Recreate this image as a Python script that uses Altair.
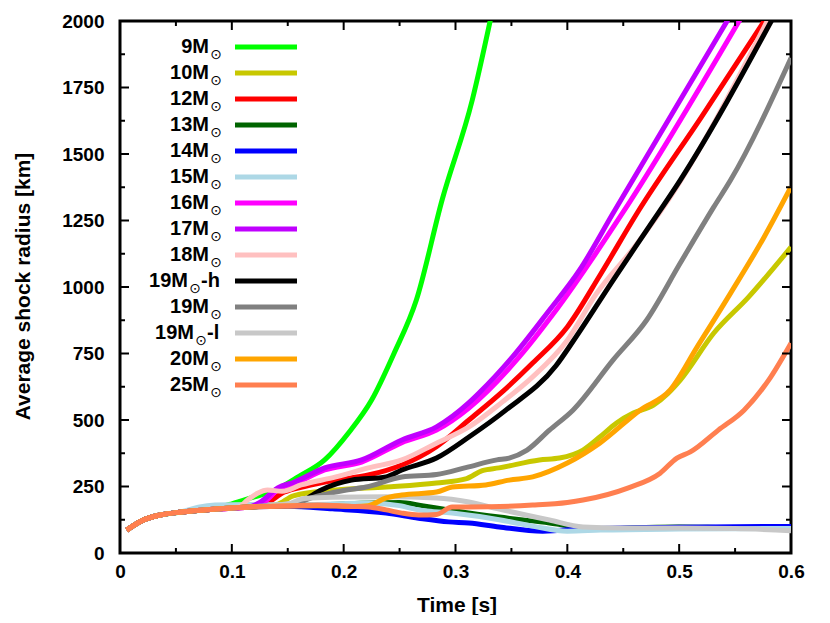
import altair as alt
import pandas as pd

# ---------------- data ----------------
NAMES = ["9M", "10M", "12M", "13M", "14M", "15M", "16M", "17M", "18M",
         "19M-h", "19M", "19M-l", "20M", "25M"]
COLORS = ["#00ff00", "#c8c800", "#ff0000", "#006400", "#0000ff", "#add8e6",
          "#ff00ff", "#c000ff", "#ffc0c0", "#000000", "#808080", "#c8c8c8",
          "#ffa500", "#ff7f50"]
LEG_MAIN = ["9M", "10M", "12M", "13M", "14M", "15M", "16M", "17M", "18M",
            "19M", "19M", "19M", "20M", "25M"]
LEG_SUFFIX = ["", "", "", "", "", "", "", "", "", "-h", "", "-l", "", ""]

T9 = [0.006, 0.02, 0.035, 0.055, 0.08, 0.1, 0.117, 0.139, 0.16, 0.183, 0.205, 0.225, 0.245, 0.265, 0.288, 0.315, 0.332]
V9 = [86, 122, 142, 154, 164, 185, 207, 237, 288, 350, 455, 575, 750, 951, 1327, 1703, 2020]

T10 = [0.006, 0.02, 0.035, 0.055, 0.085, 0.115, 0.14, 0.155, 0.193, 0.238, 0.283, 0.31, 0.324, 0.339, 0.375, 0.393, 0.414, 0.429, 0.444, 0.459, 0.477, 0.49, 0.501, 0.531, 0.562, 0.6]
V10 = [86, 122, 142, 154, 165, 173, 182, 215, 237, 248, 263, 280, 310, 320, 350, 357, 387, 436, 489, 526, 556, 600, 650, 827, 962, 1150]

T12 = [0.006, 0.02, 0.035, 0.055, 0.085, 0.115, 0.13, 0.147, 0.165, 0.193, 0.222, 0.252, 0.283, 0.312, 0.339, 0.369, 0.4, 0.43, 0.463, 0.52, 0.58]
V12 = [86, 122, 142, 154, 165, 173, 185, 229, 250, 274, 293, 331, 400, 500, 595, 714, 850, 1050, 1282, 1640, 2025]

T13 = [0.006, 0.02, 0.035, 0.055, 0.085, 0.115, 0.15, 0.18, 0.21, 0.25, 0.27, 0.294, 0.339, 0.384, 0.43, 0.46, 0.5, 0.55, 0.6]
V13 = [86, 122, 142, 154, 165, 173, 178, 181, 186, 190, 178, 162, 135, 113, 88, 95, 98, 95, 98]

T14 = [0.006, 0.02, 0.035, 0.055, 0.085, 0.115, 0.15, 0.19, 0.238, 0.267, 0.294, 0.312, 0.339, 0.378, 0.42, 0.5, 0.6]
V14 = [86, 122, 142, 154, 165, 173, 176, 166, 150, 131, 117, 113, 98, 82, 92, 97, 100]

T15 = [0.006, 0.02, 0.035, 0.055, 0.07, 0.085, 0.115, 0.15, 0.19, 0.222, 0.25, 0.267, 0.297, 0.339, 0.37, 0.4, 0.43, 0.5, 0.6]
V15 = [86, 122, 142, 155, 172, 180, 182, 181, 184, 188, 178, 162, 150, 125, 100, 82, 86, 90, 92]

T16 = [0.006, 0.02, 0.035, 0.055, 0.085, 0.115, 0.13, 0.141, 0.156, 0.183, 0.216, 0.252, 0.283, 0.312, 0.357, 0.388, 0.45, 0.555]
V16 = [86, 122, 142, 154, 165, 173, 195, 238, 260, 312, 342, 415, 462, 545, 737, 902, 1282, 2010]

T17 = [0.006, 0.02, 0.035, 0.055, 0.085, 0.115, 0.125, 0.141, 0.156, 0.183, 0.216, 0.252, 0.283, 0.312, 0.321, 0.351, 0.382, 0.411, 0.441, 0.545]
V17 = [86, 122, 142, 154, 165, 173, 190, 245, 267, 320, 350, 425, 474, 565, 601, 737, 902, 1064, 1278, 2015]

T18 = [0.006, 0.02, 0.035, 0.055, 0.085, 0.106, 0.114, 0.123, 0.132, 0.145, 0.162, 0.193, 0.222, 0.252, 0.283, 0.312, 0.342, 0.369, 0.4, 0.426, 0.46, 0.486, 0.58]
V18 = [86, 122, 142, 154, 165, 172, 199, 225, 237, 232, 256, 286, 320, 350, 413, 474, 568, 662, 800, 975, 1150, 1300, 2010]

T19H = [0.006, 0.02, 0.035, 0.055, 0.085, 0.115, 0.155, 0.165, 0.18, 0.207, 0.238, 0.252, 0.283, 0.312, 0.345, 0.39, 0.405, 0.441, 0.471, 0.501, 0.585]
V19H = [86, 122, 142, 154, 165, 173, 182, 200, 237, 274, 286, 312, 357, 436, 537, 705, 795, 1026, 1214, 1402, 2020]

T19 = [0.006, 0.02, 0.035, 0.055, 0.085, 0.115, 0.155, 0.171, 0.2, 0.22, 0.252, 0.283, 0.31, 0.337, 0.348, 0.364, 0.384, 0.405, 0.441, 0.471, 0.501, 0.531, 0.546, 0.6]
V19 = [86, 122, 142, 154, 165, 173, 185, 207, 235, 248, 286, 295, 322, 350, 357, 387, 462, 537, 726, 876, 1090, 1301, 1402, 1861]

T19L = [0.006, 0.02, 0.035, 0.055, 0.085, 0.115, 0.15, 0.165, 0.19, 0.238, 0.283, 0.312, 0.339, 0.384, 0.414, 0.45, 0.5, 0.55, 0.6]
V19L = [86, 122, 142, 154, 165, 173, 185, 205, 210, 211, 207, 192, 165, 124, 98, 94, 94, 92, 84]

T20 = [0.006, 0.02, 0.035, 0.055, 0.085, 0.115, 0.177, 0.21, 0.222, 0.238, 0.252, 0.283, 0.297, 0.327, 0.348, 0.369, 0.4, 0.429, 0.465, 0.492, 0.516, 0.546, 0.576, 0.6]
V20 = [86, 122, 142, 154, 165, 173, 178, 175, 178, 207, 218, 229, 248, 256, 274, 286, 338, 413, 537, 613, 774, 977, 1188, 1376]

T25 = [0.006, 0.02, 0.035, 0.055, 0.085, 0.115, 0.147, 0.177, 0.207, 0.222, 0.238, 0.252, 0.267, 0.283, 0.297, 0.312, 0.369, 0.4, 0.414, 0.454, 0.483, 0.498, 0.51, 0.535, 0.558, 0.58, 0.6]
V25 = [86, 122, 142, 154, 165, 173, 177, 180, 175, 173, 162, 150, 143, 145, 173, 173, 180, 190, 199, 244, 300, 357, 380, 462, 537, 650, 789]

SERIES_T = [T9, T10, T12, T13, T14, T15, T16, T17, T18, T19H, T19, T19L, T20, T25]
SERIES_V = [V9, V10, V12, V13, V14, V15, V16, V17, V18, V19H, V19, V19L, V20, V25]

X_MAJOR = [0, 0.1, 0.2, 0.3, 0.4, 0.5, 0.6]
X_MINOR = [0.05, 0.15, 0.25, 0.35, 0.45, 0.55]
Y_MAJOR = [0, 250, 500, 750, 1000, 1250, 1500, 1750, 2000]
Y_MINOR = [125, 375, 625, 875, 1125, 1375, 1625, 1875]

# ---------------- layout / style ----------------
W, H = 671, 532
FONT = "Liberation Sans"
FS = 19      # tick labels
TFS = 21     # axis titles
LFS = 20     # legend labels

xs = alt.Scale(domain=[0, 0.6], nice=False, zero=False)
ys = alt.Scale(domain=[0, 2000], nice=False, zero=False)

x_axis = alt.Axis(values=X_MAJOR, labelExpr="datum.value == 0 ? '0' : format(datum.value, '.1f')",
                  title="Time [s]", ticks=False, domain=False, grid=False,
                  labelFont=FONT, labelFontSize=FS, labelFontWeight="bold", labelColor="black",
                  labelPadding=9, labelFlush=False, labelOverlap=False,
                  titleFont=FONT, titleFontSize=TFS, titleFontWeight="bold", titleColor="black",
                  titleX=W / 2 + 1, titleY=52, titleBaseline="middle")
y_axis = alt.Axis(values=Y_MAJOR, format="d",
                  title="Average shock radius [km]", ticks=False, domain=False, grid=False,
                  labelFont=FONT, labelFontSize=FS, labelFontWeight="bold", labelColor="black",
                  labelPadding=16, labelFlush=False, labelOverlap=False,
                  titleFont=FONT, titleFontSize=TFS, titleFontWeight="bold", titleColor="black",
                  titleX=-97, titleY=H / 2 - 1, titleBaseline="middle")

X_ENC = alt.X("t:Q", scale=xs, axis=x_axis, title="Time [s]")
Y_ENC = alt.Y("v:Q", scale=ys, axis=y_axis, title="Average shock radius [km]")

layers = []
for name, col, ts, vs in zip(NAMES, COLORS, SERIES_T, SERIES_V):
    df = pd.DataFrame({"t": ts, "v": vs, "name": name})
    layers.append(
        alt.Chart(df).mark_line(strokeWidth=5, clip=True, interpolate="monotone", strokeCap="butt")
        .encode(x=X_ENC, y=Y_ENC, color=alt.value(col))
    )

# inward ticks on all four sides
def xticks(vals, length):
    df = pd.DataFrame({"t": vals})
    bottom = alt.Chart(df).mark_rule(color="black", strokeWidth=2).encode(
        x=X_ENC, y=alt.value(H), y2=alt.value(H - length))
    top = alt.Chart(df).mark_rule(color="black", strokeWidth=2).encode(
        x=X_ENC, y=alt.value(0), y2=alt.value(length))
    return [bottom, top]

def yticks(vals, length):
    df = pd.DataFrame({"v": vals})
    left = alt.Chart(df).mark_rule(color="black", strokeWidth=2).encode(
        y=Y_ENC, x=alt.value(0), x2=alt.value(length))
    right = alt.Chart(df).mark_rule(color="black", strokeWidth=2).encode(
        y=Y_ENC, x=alt.value(W), x2=alt.value(W - length))
    return [left, right]

layers += xticks(X_MAJOR, 9) + xticks(X_MINOR, 5) + yticks(Y_MAJOR, 9) + yticks(Y_MINOR, 5)

# custom legend (labels left of the line samples, gnuplot style)
R = 102
SW = {"": 0, "-h": 21, "-l": 15}
rows = []
for i, (name, main, suf) in enumerate(zip(NAMES, LEG_MAIN, LEG_SUFFIX)):
    sx = R - 6 - SW[suf]
    rows.append({"name": name, "main": main, "suf": suf,
                 "ly": 26 + 26 * i, "sy": 26 + 26 * i + 8,
                 "mx": sx - 7, "sx": sx, "fx": sx + 6,
                 "lx1": 115, "lx2": 177})
leg = pd.DataFrame(rows)
cscale = alt.Scale(domain=NAMES, range=COLORS)

leg_rule = alt.Chart(leg).mark_rule(strokeWidth=5).encode(
    x=alt.X("lx1:Q", scale=None), x2="lx2:Q", y=alt.Y("ly:Q", scale=None),
    color=alt.Color("name:N", scale=cscale, legend=None))
leg_main = alt.Chart(leg).mark_text(align="right", baseline="middle", font=FONT,
                                    fontSize=LFS, fontWeight="bold", color="black").encode(
    x=alt.X("mx:Q", scale=None), y=alt.Y("ly:Q", scale=None), text="main:N")
leg_sun = alt.Chart(leg).mark_text(align="center", baseline="middle", font="DejaVu Sans",
                                   fontSize=14, color="black").encode(
    x=alt.X("sx:Q", scale=None), y=alt.Y("sy:Q", scale=None), text=alt.value("\u2299"))
leg_suf = alt.Chart(leg[leg["suf"] != ""]).mark_text(align="left", baseline="middle", font=FONT,
                                                    fontSize=LFS, fontWeight="bold", color="black").encode(
    x=alt.X("fx:Q", scale=None), y=alt.Y("ly:Q", scale=None), text="suf:N")

layers += [leg_rule, leg_main, leg_sun, leg_suf]

chart = (
    alt.layer(*layers)
    .properties(width=W, height=H, autosize="none",
                padding={"left": 112, "top": 13, "right": 20, "bottom": 62},
                background="white")
    .configure_view(stroke="black", strokeWidth=3)
)

chart.save("out.html", embed_options={"renderer": "svg", "actions": False})
